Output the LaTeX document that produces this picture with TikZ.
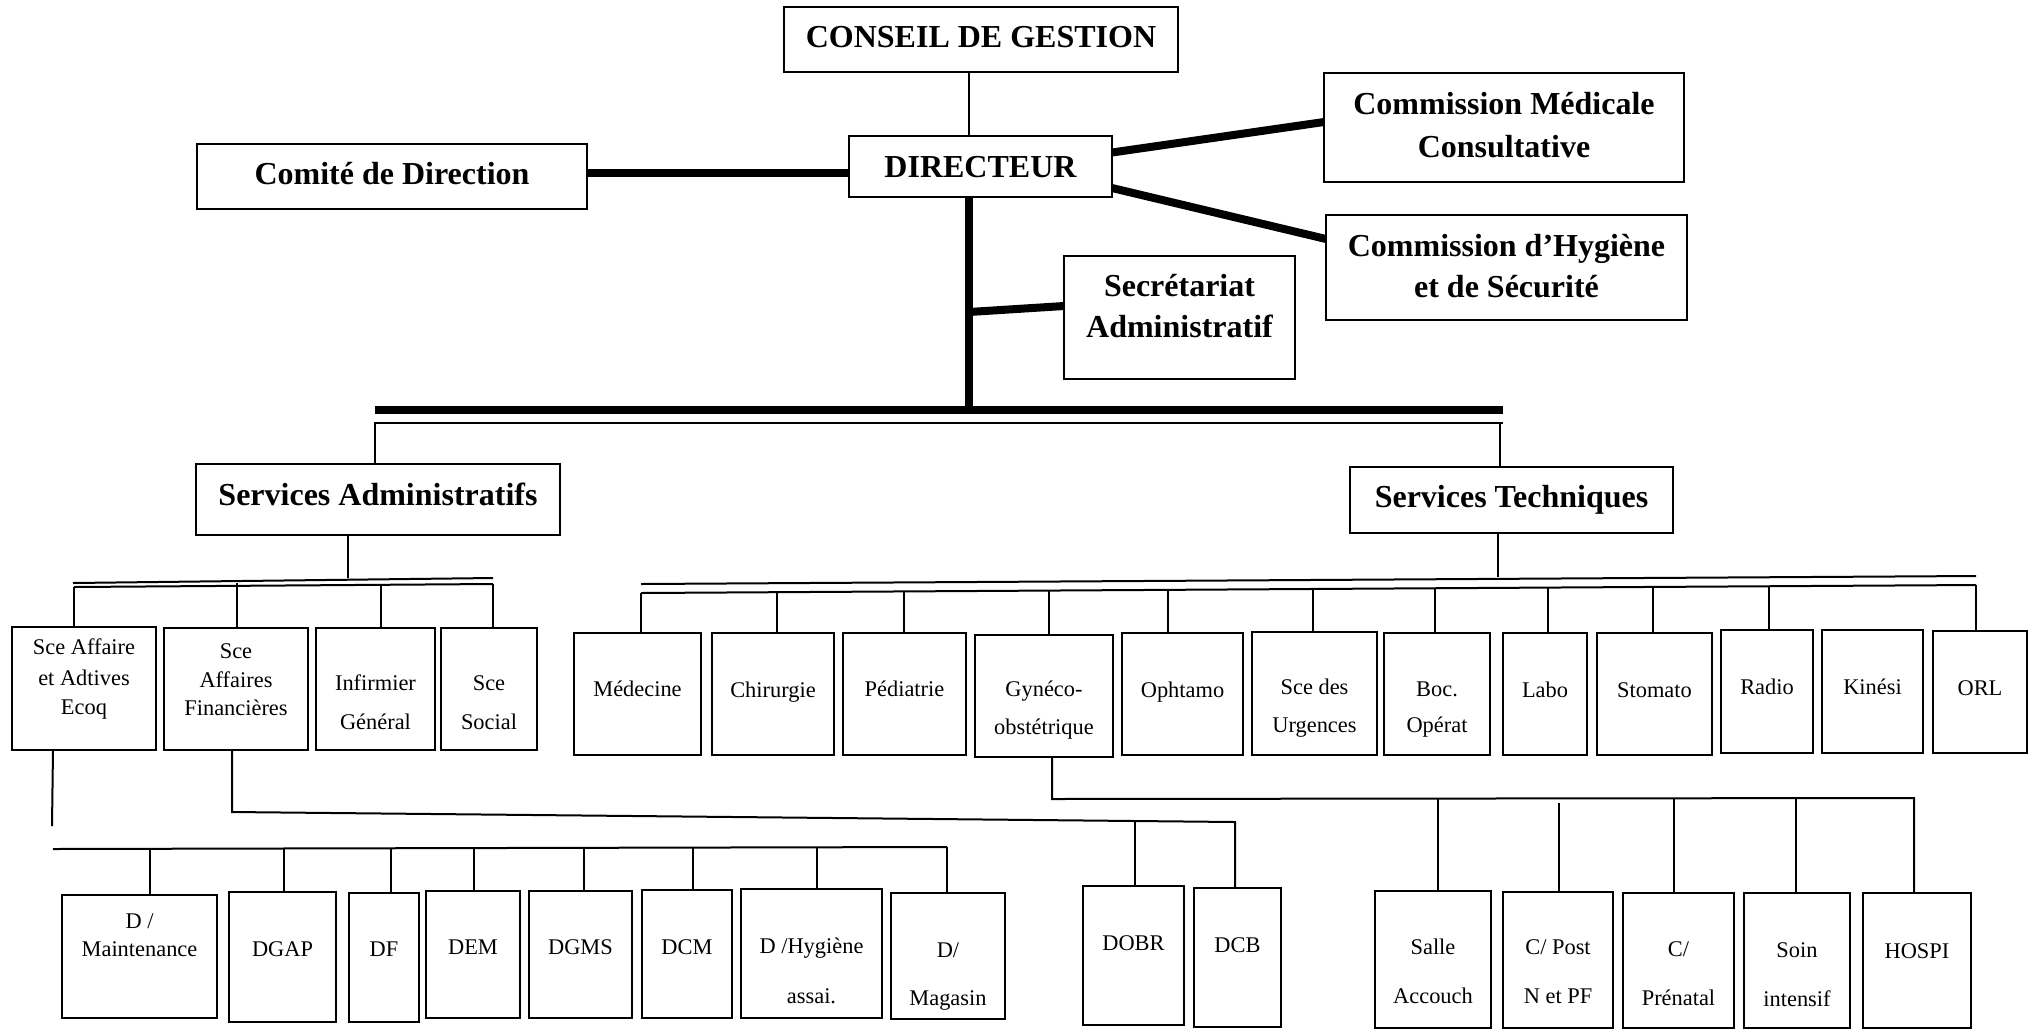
\documentclass[tikz,border=0pt]{standalone}
\usepackage{fontspec}
\setmainfont{Liberation Serif}
\usetikzlibrary{fit}
\newcommand\bx[5]{\node[box, fit={(#2,#3) (#4,#5)}] (#1) {};}
\newcommand\txb[4]{\node[bt] (#1) at (#2.center |- 0,#3) {#4};}
\newcommand\txr[4]{\node[rt] (#1) at (#2.center |- 0,#3) {#4};}
\begin{document}
\begin{tikzpicture}[x=0.5pt,y=-0.5pt,
 box/.style={draw,line width=1.1pt,inner sep=0pt,outer sep=0pt},
 bt/.style={font=\fontsize{16}{19}\selectfont\bfseries,inner sep=0pt,text height=10.6pt,text depth=0pt},
 rt/.style={font=\fontsize{11.2}{13}\selectfont,inner sep=0pt,text height=7.4pt,text depth=0pt},
 ln/.style={line width=1pt},
 thk/.style={line width=4pt}]
\useasboundingbox (0,0) rectangle (2031,1030);
\fill[white] (0,0) rectangle (2031,1030);
% ---------- top level boxes
\bx{conseil}{784}{7}{1178}{72}
\bx{directeur}{849}{136}{1112}{197}
\bx{comite}{197}{144}{587}{209}
\bx{secr}{1064}{256}{1295}{379}
\bx{commed}{1324}{73}{1684}{182}
\bx{commhyg}{1326}{215}{1687}{320}
\bx{admin}{196}{464}{560}{535}
\bx{tech}{1350}{467}{1673}{533}
\txb{conseilt}{conseil}{37}{CONSEIL DE GESTION}
\txb{directeurt}{directeur}{167}{DIRECTEUR}
\txb{comitet}{comite}{174}{Comité de Direction}
\txb{secrt1}{secr}{286}{Secrétariat}
\txb{secrt2}{secr}{327}{Administratif}
\txb{commedt1}{commed}{104}{Commission Médicale}
\txb{commedt2}{commed}{147}{Consultative}
\txb{commhygt1}{commhyg}{246}{Commission d’Hygiène}
\txb{commhygt2}{commhyg}{287}{et de Sécurité}
\txb{admint}{admin}{495}{Services Administratifs}
\txb{techt}{tech}{497}{Services Techniques}
% ---------- admin services
\bx{sa1}{12}{627}{156}{750}
\bx{sa2}{164}{628}{308}{750}
\bx{sa3}{316}{628}{435}{750}
\bx{sa4}{441}{628}{537}{750}
\txr{sa1a}{sa1}{647}{Sce Affaire}
\txr{sa1b}{sa1}{678}{et Adtives}
\txr{sa1c}{sa1}{707}{Ecoq}
\txr{sa2a}{sa2}{651}{Sce}
\txr{sa2b}{sa2}{680}{Affaires}
\txr{sa2c}{sa2}{708}{Financières}
\txr{sa3a}{sa3}{683}{Infirmier}
\txr{sa3b}{sa3}{722}{Général}
\txr{sa4a}{sa4}{683}{Sce}
\txr{sa4b}{sa4}{722}{Social}
% ---------- technical services
\bx{med}{574}{633}{701}{755}
\bx{chir}{712}{633}{834}{755}
\bx{ped}{843}{633}{966}{755}
\bx{gyn}{975}{635}{1113}{757}
\bx{oph}{1122}{633}{1243}{755}
\bx{urg}{1252}{632}{1377}{755}
\bx{boc}{1384}{633}{1490}{755}
\bx{labo}{1503}{633}{1587}{755}
\bx{stom}{1597}{633}{1712}{755}
\bx{radio}{1721}{630}{1813}{753}
\bx{kin}{1822}{630}{1923}{753}
\bx{orl}{1933}{631}{2027}{753}
\txr{medt}{med}{689}{Médecine}
\txr{chirt}{chir}{690}{Chirurgie}
\txr{pedt}{ped}{689}{Pédiatrie}
\txr{gynt1}{gyn}{689}{Gynéco-}
\txr{gynt2}{gyn}{727}{obstétrique}
\txr{opht}{oph}{690}{Ophtamo}
\txr{urgt1}{urg}{687}{Sce des}
\txr{urgt2}{urg}{725}{Urgences}
\txr{boct1}{boc}{689}{Boc.}
\txr{boct2}{boc}{725}{Opérat}
\txr{labot}{labo}{690}{Labo}
\txr{stomt}{stom}{690}{Stomato}
\txr{radiot}{radio}{687}{Radio}
\txr{kint}{kin}{687}{Kinési}
\txr{orlt}{orl}{688}{ORL}
% ---------- directions
\bx{dmaint}{62}{895}{217}{1018}
\bx{dgap}{229}{892}{336}{1022}
\bx{df}{349}{893}{419}{1022}
\bx{dem}{426}{891}{520}{1018}
\bx{dgms}{529}{891}{632}{1018}
\bx{dcm}{642}{890}{732}{1018}
\bx{dhyg}{741}{889}{882}{1018}
\bx{dmag}{891}{893}{1005}{1019}
\bx{dobr}{1083}{886}{1184}{1025}
\bx{dcb}{1194}{888}{1281}{1027}
\txr{dmaintt1}{dmaint}{921}{D /}
\txr{dmaintt2}{dmaint}{949}{Maintenance}
\txr{dgapt}{dgap}{949}{DGAP}
\txr{dft}{df}{949}{DF}
\txr{demt}{dem}{947}{DEM}
\txr{dgmst}{dgms}{947}{DGMS}
\txr{dcmt}{dcm}{947}{DCM}
\txr{dhygt1}{dhyg}{946}{D /Hygiène}
\txr{dhygt2}{dhyg}{996}{assai.}
\txr{dmagt1}{dmag}{950}{D/}
\txr{dmagt2}{dmag}{998}{Magasin}
\txr{dobrt}{dobr}{943}{DOBR}
\txr{dcbt}{dcb}{945}{DCB}
% ---------- gyneco units
\bx{salle}{1375}{891}{1491}{1028}
\bx{cpost}{1503}{892}{1613}{1028}
\bx{cpre}{1623}{893}{1734}{1028}
\bx{soin}{1744}{893}{1850}{1028}
\bx{hospi}{1863}{893}{1971}{1028}
\txr{sallet1}{salle}{947}{Salle}
\txr{sallet2}{salle}{996}{Accouch}
\txr{cpostt1}{cpost}{947}{C/ Post}
\txr{cpostt2}{cpost}{996}{N et PF}
\txr{cpret1}{cpre}{949}{C/}
\txr{cpret2}{cpre}{998}{Prénatal}
\txr{sointt1}{soin}{950}{Soin}
\txr{sointt2}{soin}{999}{intensif}
\txr{hospit}{hospi}{951}{HOSPI}
% ---------- connectors, top
\draw[ln] (969,0 |- conseil.south) -- (969,0 |- directeur.north);
\draw[thk] ([yshift=1.75pt]comite.east) -- ([yshift=1.75pt]comite.east -| directeur.west);
\draw[thk] ([yshift=7pt]directeur.east) -- ([yshift=2.75pt]commed.west);
\draw[thk] ([yshift=-10.75pt]directeur.east) -- ([yshift=14.25pt]commhyg.west);
\coordinate (barL) at (375,410);
\coordinate (barR) at (1503,410);
\coordinate (bmid) at (969,410);
\coordinate (sj) at (969,312);
\draw[thk] (barL) -- (barR);
\draw[thk] (969,0 |- directeur.south) -- (bmid);
\draw[thk] (sj) -- ([yshift=5.75pt]secr.west);
\draw[ln] (375,0 |- admin.north) -- (375,423) -- (1503,423);
\draw[ln] (1500,423) -- (1500,0 |- tech.north);
% ---------- admin bus
\draw[ln] (348,0 |- admin.south) -- (348,578);
\draw[ln] (73,583) -- (493,578);
\draw[ln] (74,587) -- (493,584);
\draw[ln] (74,587) -- (74,0 |- sa1.north);
\draw[ln] (237,583) -- (237,0 |- sa2.north);
\draw[ln] (381,585) -- (381,0 |- sa3.north);
\draw[ln] (493,584) -- (493,0 |- sa4.north);
% ---------- technical bus
\draw[ln] (1498,0 |- tech.south) -- (1498,577);
\draw[ln] (641,584) -- (1976,576);
\draw[ln] (641,593) -- (1976,585);
\draw[ln] (641,593) -- (641,0 |- med.north);
\draw[ln] (777,592.2) -- (777,0 |- chir.north);
\draw[ln] (904,591.4) -- (904,0 |- ped.north);
\draw[ln] (1049,590.6) -- (1049,0 |- gyn.north);
\draw[ln] (1168,589.8) -- (1168,0 |- oph.north);
\draw[ln] (1313,589) -- (1313,0 |- urg.north);
\draw[ln] (1435,588.2) -- (1435,0 |- boc.north);
\draw[ln] (1548,587.6) -- (1548,0 |- labo.north);
\draw[ln] (1653,586.9) -- (1653,0 |- stom.north);
\draw[ln] (1769,586.2) -- (1769,0 |- radio.north);
\draw[ln] (1976,585) -- (1976,0 |- orl.north);
% ---------- directions bus
\coordinate (sa1end) at (52,826);
\draw[ln] (53,0 |- sa1.south) -- (sa1end);
\draw[ln] (53,849) -- (947,847);
\draw[ln] (150,848.8) -- (150,0 |- dmaint.north);
\draw[ln] (284,848.5) -- (284,0 |- dgap.north);
\draw[ln] (391,848.2) -- (391,0 |- df.north);
\draw[ln] (474,848.1) -- (474,0 |- dem.north);
\draw[ln] (584,847.8) -- (584,0 |- dgms.north);
\draw[ln] (693,847.6) -- (693,0 |- dcm.north);
\draw[ln] (817,847.3) -- (817,0 |- dhyg.north);
\draw[ln] (947,847) -- (947,0 |- dmag.north);
\draw[ln] (232,0 |- sa2.south) -- (232,812) -- (1235,822) -- (1235,0 |- dcb.north);
\draw[ln] (1135,821) -- (1135,0 |- dobr.north);
% ---------- gyneco bus
\draw[ln] (1052,0 |- gyn.south) -- (1052,799) -- (1914,798) -- (1914,0 |- hospi.north);
\draw[ln] (1438,798.6) -- (1438,0 |- salle.north);
\coordinate (cpostend) at (1559,803);
\draw[ln] (cpostend) -- (1559,0 |- cpost.north);
\draw[ln] (1674,798.3) -- (1674,0 |- cpre.north);
\draw[ln] (1796,798.1) -- (1796,0 |- soin.north);
\end{tikzpicture}
\end{document}
